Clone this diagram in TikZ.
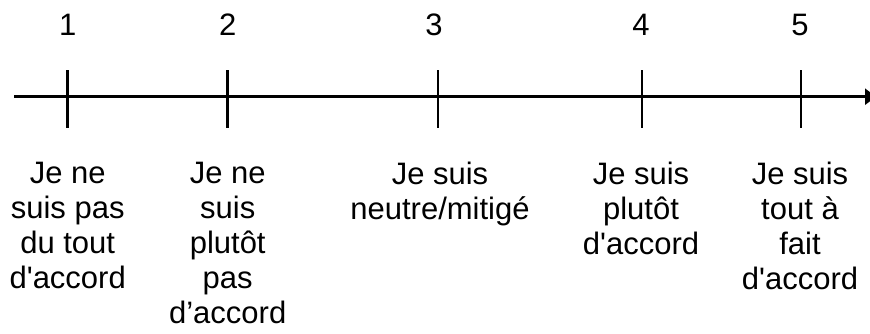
\documentclass[tikz,border=0pt]{standalone}
\usepackage{fontspec}
\setmainfont{Liberation Sans}
\usetikzlibrary{positioning,arrows.meta}

\begin{document}
\begin{tikzpicture}[x=1pt, y=-1pt, line width=2.5pt,
    every node/.style={font=\fontsize{31}{35}\selectfont, inner sep=0pt},
    label/.style={align=center, anchor=north}]
      \useasboundingbox (0,0) rectangle (870,333);
      \coordinate (axstart) at (14,96.7);
      \coordinate (axend) at (876,96.7);
      \coordinate (tk1) at (67.7,96.7);
      \coordinate (tk2) at (227.7,96.7);
      \coordinate (tk3) at (438,96.7);
      \coordinate (tk4) at (642,96.7);
      \coordinate (tk5) at (801,96.7);

      \draw[-{Triangle[length=11pt,width=16pt]}] (axstart) -- (axend);
      \draw (tk1 |- 0,70) -- (tk1 |- 0,127.7);
      \draw (tk2 |- 0,70) -- (tk2 |- 0,127.7);
      \draw (tk3 |- 0,70) -- (tk3 |- 0,127.7);
      \draw (tk4 |- 0,70) -- (tk4 |- 0,127.7);
      \draw (tk5 |- 0,70) -- (tk5 |- 0,127.7);

      \node (n1) at (67.7,25) {1};
      \node (n2) at (227.7,25) {2};
      \node (n3) at (434,25) {3};
      \node (n4) at (641,25) {4};
      \node (n5) at (800,25) {5};

      \node [label] (pasdutout) at (67.7,161) {Je ne\\suis pas\\du tout\\d\textquotesingle accord};
      \node [label] (plutotpas) at (227.7,161) {Je ne\\suis\\plutôt\\pas\\d’accord};
      \node [label] (neutre) at (440,161) {Je suis\\neutre/mitigé};
      \node [label] (plutot) at (641,161) {Je suis\\plutôt\\d\textquotesingle accord};
      \node [label] (toutafait) at (800,161) {Je suis\\tout à\\fait\\d\textquotesingle accord};
    \end{tikzpicture}
\end{document}
